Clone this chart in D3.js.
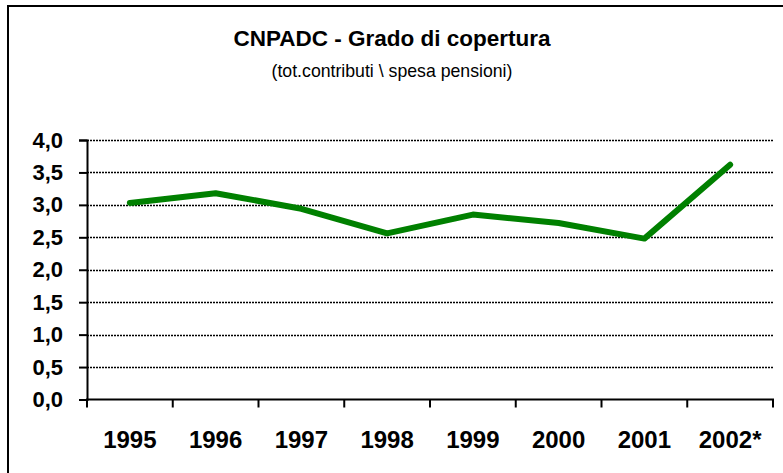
<!DOCTYPE html>
<html>
<head>
<meta charset="utf-8">
<script src="https://cdn.jsdelivr.net/npm/d3@7"></script>
<style>
  html, body { margin: 0; padding: 0; background: #fff; }
  svg { display: block; font-family: "Liberation Sans", Arial, sans-serif; }
</style>
</head>
<body>
<svg id="chart" width="783" height="473"></svg>
<script>
const years = ["1995", "1996", "1997", "1998", "1999", "2000", "2001", "2002*"];
const copertura = [3.03, 3.18, 2.94, 2.56, 2.85, 2.72, 2.48, 3.62];
const yTicks = [0, 0.5, 1, 1.5, 2, 2.5, 3, 3.5, 4];

const width = 783, height = 473;
const margin = {top: 140, right: 10, bottom: 73.5, left: 87};
const plotRight = 773;

const svg = d3.select("#chart");

// outer frame (cut off at the right and bottom edges, as in the picture)
svg.append("rect")
    .attr("x", 8).attr("y", 6)
    .attr("width", 820).attr("height", 520)
    .attr("fill", "none")
    .attr("stroke", "#000")
    .attr("stroke-width", 2);

svg.append("text")
    .attr("x", 392).attr("y", 46)
    .attr("text-anchor", "middle")
    .attr("font-size", 22.5)
    .attr("font-weight", "bold")
    .text("CNPADC - Grado di copertura");

svg.append("text")
    .attr("x", 392).attr("y", 77)
    .attr("text-anchor", "middle")
    .attr("font-size", 17.7)
    .text("(tot.contributi \\ spesa pensioni)");

const x = d3.scaleBand().domain(years).range([margin.left, plotRight]);
const y = d3.scaleLinear().domain([0, 4]).range([height - margin.bottom, margin.top]);
const fmt = d => d3.format(".1f")(d).replace(".", ",");

// dashed gridlines
svg.append("g")
    .selectAll("line")
    .data(yTicks.filter(d => d > 0))
    .join("line")
    .attr("x1", margin.left).attr("x2", plotRight)
    .attr("y1", d => Math.round(y(d)) + 0.5).attr("y2", d => Math.round(y(d)) + 0.5)
    .attr("stroke", "#000")
    .attr("stroke-width", 1.3)
    .attr("stroke-dasharray", "2,1");

// y axis
const yAxis = svg.append("g")
    .attr("transform", `translate(${margin.left},0)`)
    .call(d3.axisLeft(y).tickValues(yTicks).tickFormat(fmt).tickSize(8).tickPadding(16));
yAxis.attr("font-size", null).attr("font-family", null);
yAxis.select(".domain").attr("stroke-width", 2);
yAxis.selectAll(".tick line").attr("stroke-width", 2);
yAxis.selectAll(".tick text")
    .style("font-size", "22px")
    .style("font-weight", "bold")
    .attr("fill", "#000");

// x axis: ticks at the category boundaries
const xAxis = svg.append("g")
    .attr("transform", `translate(0,${y(0)})`);
xAxis.append("line")
    .attr("x1", margin.left - 1).attr("x2", plotRight + 1)
    .attr("stroke", "#000").attr("stroke-width", 2);
const bounds = years.map(d => x(d)).concat([x(years[years.length - 1]) + x.bandwidth()]);
xAxis.selectAll("line.tk")
    .data(bounds)
    .join("line")
    .attr("class", "tk")
    .attr("x1", d => d).attr("x2", d => d)
    .attr("y1", 0).attr("y2", 8)
    .attr("stroke", "#000").attr("stroke-width", 2);
xAxis.selectAll("text")
    .data(years)
    .join("text")
    .attr("x", d => x(d) + x.bandwidth() / 2)
    .attr("y", 48)
    .attr("text-anchor", "middle")
    .attr("font-size", 24)
    .attr("font-weight", "bold")
    .text(d => d);

// series line
const line = d3.line()
    .x((d, i) => x(years[i]) + x.bandwidth() / 2)
    .y(d => y(d));
svg.append("path")
    .datum(copertura)
    .attr("d", line)
    .attr("fill", "none")
    .attr("stroke", "#008000")
    .attr("stroke-width", 6)
    .attr("stroke-linejoin", "round")
    .attr("stroke-linecap", "round");
</script>
</body>
</html>
